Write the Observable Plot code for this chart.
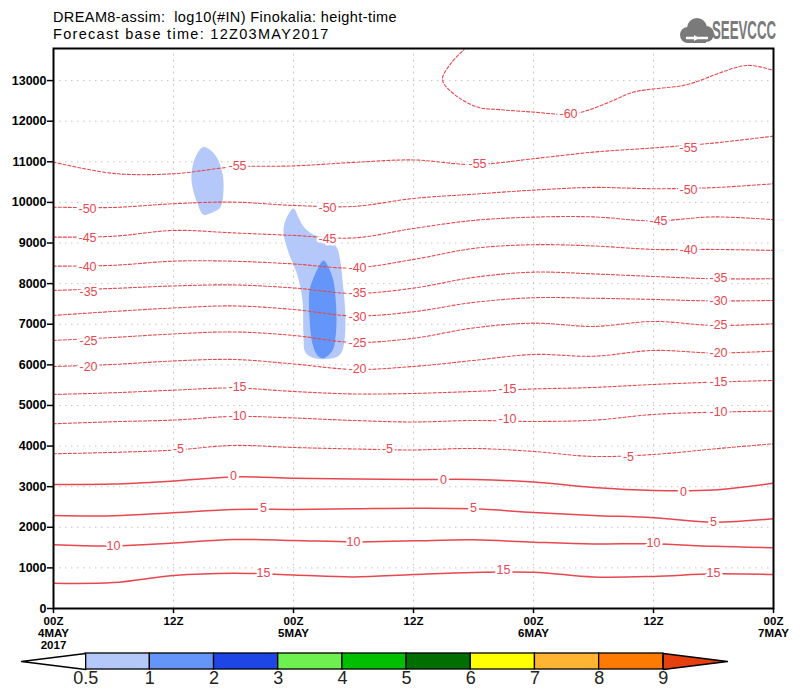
<!DOCTYPE html>
<html>
<head>
<meta charset="utf-8">
<script src="https://cdn.jsdelivr.net/npm/d3@7"></script>
<script src="https://cdn.jsdelivr.net/npm/@observablehq/plot@0.6"></script>
<style>
  html, body { margin: 0; padding: 0; background: #fff; }
  #wrap { position: relative; width: 800px; height: 698px; overflow: hidden; background: #fff; font-family: "Liberation Sans", Arial, sans-serif; }
  .title { position: absolute; left: 53px; font-size: 14.5px; line-height: 17px; white-space: pre; color: #000; }
  #cloud { position: absolute; left: 679px; top: 17px; }
  #logotxt { position: absolute; left: 712px; top: 15px; color: #7a7a7a; font-family: "Liberation Sans", Arial, sans-serif; font-weight: bold; font-size: 25px; line-height: 30px; transform: scaleX(0.53); transform-origin: left top; white-space: nowrap; }
  #main { position: absolute; left: 0; top: 0; }
  #cbar { position: absolute; left: 0; top: 645px; }
</style>
</head>
<body>
<div id="wrap">
  <div class="title" style="top:9px; letter-spacing:0.4px">DREAM8-assim:  log10(#IN) Finokalia: height-time</div>
  <div class="title" style="top:26px; letter-spacing:1.3px">Forecast base time: 12Z03MAY2017</div>
  <svg id="cloud" width="36" height="28" viewBox="0 0 36 28">
    <g fill="#7a7a7a">
      <circle cx="9" cy="18" r="8"/>
      <circle cx="18" cy="11" r="10"/>
      <circle cx="27" cy="17" r="8"/>
      <rect x="9" y="15" width="18" height="11"/>
    </g>
    <path d="M7 21 H29" stroke="#fff" stroke-width="2.5"/>
    <path d="M15 18 l5 3 l-5 3 z" fill="#fff"/>
  </svg>
  <div id="logotxt">SEEVCCC</div>
  <div id="main"></div>
  <div id="cbar"></div>
</div>
<script>
// ---------- data ----------
const hours = [0, 6, 12, 18, 24, 30, 36, 42, 48, 54, 60, 66, 72];

// temperature contour heights (m) at the hours above
const c15  = [623, 640, 813, 869, 825, 776, 837, 887, 894, 776, 790, 855, 837];
const c10  = [1569, 1540, 1613, 1699, 1675, 1640, 1667, 1690, 1633, 1590, 1594, 1530, 1495];
const c5   = [2291, 2285, 2360, 2440, 2440, 2455, 2470, 2456, 2364, 2291, 2234, 2126, 2209];
const c0   = [3054, 3065, 3140, 3240, 3209, 3190, 3177, 3177, 3116, 2980, 2906, 2918, 3086];
const cm5  = [3810, 3845, 3900, 4015, 3965, 3929, 3904, 3941, 3867, 3744, 3793, 3929, 4057];
const cm10 = [4549, 4600, 4640, 4729, 4692, 4630, 4593, 4630, 4606, 4638, 4778, 4835, 4860];
const cm15 = [5271, 5313, 5377, 5431, 5345, 5283, 5296, 5345, 5406, 5443, 5517, 5574, 5616];
const cm20 = [5960, 6010, 6096, 6133, 6022, 5887, 5960, 6108, 6256, 6212, 6355, 6293, 6337];
const cm25 = [6601, 6675, 6761, 6810, 6724, 6552, 6655, 6909, 7027, 6946, 7069, 6970, 7012];
const cm30 = [7217, 7315, 7401, 7451, 7364, 7204, 7308, 7537, 7653, 7640, 7611, 7574, 7586];
const cm35 = [7832, 7882, 7943, 7968, 7894, 7758, 7889, 8153, 8283, 8239, 8177, 8120, 8120];
const cm40 = [8431, 8451, 8554, 8552, 8485, 8387, 8596, 8867, 8958, 8928, 8842, 8842, 8818];
const cm45 = [9145, 9167, 9310, 9249, 9187, 9125, 9359, 9556, 9638, 9643, 9544, 9643, 9574];
const cm50 = [9884, 9876, 9968, 10007, 9926, 9901, 10098, 10202, 10303, 10369, 10337, 10364, 10460];
const cm55 = [10992, 10714, 10706, 10874, 10899, 10985, 11046, 10932, 11076, 11239, 11342, 11461, 11633];

// the -60 contour folds back on itself
const m60Hours   = [41.2, 39.7, 38.9, 40.0, 42.4, 44.7, 48.0, 51.5, 53.4, 56.0, 58.0, 63.0, 64.7, 66.4, 69.4, 72.0];
const m60Heights = [13800, 13411, 13022, 12677, 12347, 12283, 12224, 12167, 12266, 12512, 12717, 12882, 13005, 13170, 13374, 13251];

// contour labels
const labelValue  = [-60, -55, -55, -55, -50, -50, -50, -45, -45, -45, -40, -40, -40, -35, -35, -35, -30, -30, -25, -25, -25, -20, -20, -20, -15, -15, -15, -10, -10, -10, -5, -5, -5, 0, 0, 0, 5, 5, 5, 10, 10, 10, 15, 15, 15];
const labelHour   = [51.5, 18.4, 42.4, 63.5, 3.4, 27.4, 63.5, 3.4, 27.4, 60.5, 3.4, 30.4, 63.5, 3.5, 30.4, 66.5, 30.4, 66.5, 3.5, 30.4, 66.5, 3.5, 30.4, 66.5, 18.4, 45.4, 66.5, 18.4, 45.4, 66.5, 12.5, 33.4, 57.5, 18, 39, 63, 21, 42, 66, 6, 30, 60, 21, 45, 66];
const labelHeight = [12167, 10886, 10935, 11330, 9827, 9852, 10295, 9113, 9089, 9532, 8399, 8387, 8818, 7783, 7758, 8128, 7167, 7561, 6576, 6527, 6970, 5936, 5887, 6281, 5443, 5394, 5566, 4729, 4655, 4827, 3916, 3916, 3719, 3251, 3153, 2857, 2463, 2463, 2118, 1527, 1626, 1601, 862, 936, 862];

// log10(#IN) shaded areas (outline points: hour, height)
const blobAHours   = [15.0, 16.2, 16.9, 17.0, 16.7, 16.0, 15.0, 14.4, 13.9, 13.8, 14.2];
const blobAHeights = [11362, 11157, 10707, 10296, 9884, 9761, 9697, 9968, 10377, 10707, 11116];
const blobBHours   = [24.0, 24.5, 25.0, 25.8, 26.9, 28.2, 28.7, 28.9, 29.1, 29.2, 29.1, 28.8, 28.2, 26.2, 25.2, 25.0, 24.9, 24.4, 23.5, 23.0, 23.2];
const blobBHeights = [9852, 9631, 9409, 9236, 9113, 8941, 8522, 8079, 7586, 7093, 6601, 6305, 6182, 6158, 6305, 6724, 7586, 8202, 8769, 9261, 9557];
const blobCHours   = [27.0, 27.9, 28.2, 28.3, 28.2, 27.9, 27.0, 26.4, 25.9, 25.6, 25.6, 25.9, 26.5];
const blobCHeights = [8571, 8160, 7667, 7175, 6682, 6355, 6165, 6231, 6520, 7175, 7832, 8079, 8406];

// axes
const xTicks = [0, 12, 24, 36, 48, 60, 72];
const xTickLabels = ["00Z\n4MAY\n2017", "12Z", "00Z\n5MAY", "12Z", "00Z\n6MAY", "12Z", "00Z\n7MAY"];
const yTicks = [0, 1000, 2000, 3000, 4000, 5000, 6000, 7000, 8000, 9000, 10000, 11000, 12000, 13000];

// colour bar
const cbLevels = [0.5, 1, 2, 3, 4, 5, 6, 7, 8, 9];
const cbColors = ["#b4c8fa", "#6496fa", "#1e46e6", "#6ef050", "#00bf00", "#006e00", "#ffff00", "#ffb432", "#ff7a00"];
const cbUnder = "#ffffff";
const cbOver = "#e6400f";

// ---------- build ----------
const red = "#e8474f";
const contourSets = [
  [15, c15], [10, c10], [5, c5], [0, c0], [-5, cm5], [-10, cm10], [-15, cm15], [-20, cm20],
  [-25, cm25], [-30, cm30], [-35, cm35], [-40, cm40], [-45, cm45], [-50, cm50], [-55, cm55]
];
const rows = [];
for (const [lev, hs] of contourSets) hs.forEach((h, i) => rows.push({level: lev, t: hours[i], h}));
m60Hours.forEach((t, i) => rows.push({level: -60, t, h: m60Heights[i]}));
const posRows = rows.filter(d => d.level >= 0);
const negRows = rows.filter(d => d.level < 0);
const labels = labelValue.map((v, i) => ({v, t: labelHour[i], h: labelHeight[i]}));
const pts = (ts, hs) => ts.map((t, i) => ({t, h: hs[i]}));

const main = Plot.plot({
  width: 800, height: 660,
  marginLeft: 53, marginRight: 27, marginTop: 48, marginBottom: 52,
  style: {background: "transparent", fontFamily: "'Liberation Sans', Arial, sans-serif", fontSize: "12px", color: "#000", overflow: "visible"},
  x: {domain: [0, 72]},
  y: {domain: [0, 13790]},
  marks: [
    Plot.gridX(xTicks, {stroke: "#c4c4c4", strokeOpacity: 1, strokeDasharray: "1.5,4.5"}),
    Plot.gridY(yTicks, {stroke: "#c4c4c4", strokeOpacity: 1, strokeDasharray: "1.5,4.5"}),
    Plot.line(pts(blobAHours, blobAHeights), {x: "t", y: "h", fill: cbColors[0], stroke: "none", curve: "catmull-rom-closed"}),
    Plot.line(pts(blobBHours, blobBHeights), {x: "t", y: "h", fill: cbColors[0], stroke: "none", curve: "catmull-rom-closed"}),
    Plot.line(pts(blobCHours, blobCHeights), {x: "t", y: "h", fill: cbColors[1], stroke: "none", curve: "catmull-rom-closed"}),
    Plot.line(negRows, {x: "t", y: "h", z: "level", stroke: red, strokeWidth: 1.1, strokeDasharray: "3,2", curve: "catmull-rom", clip: true}),
    Plot.line(posRows, {x: "t", y: "h", z: "level", stroke: red, strokeWidth: 1.5, curve: "catmull-rom", clip: true}),
    Plot.text(labels, {x: "t", y: "h", text: d => String(d.v), fill: red, stroke: "white", strokeWidth: 5, fontSize: 12.5}),
    Plot.frame({stroke: "#000", strokeWidth: 2}),
    Plot.axisX(xTicks, {tickFormat: () => "", tickSize: 5, label: null, stroke: "#000", strokeWidth: 1.5}),
    Plot.axisY(yTicks, {tickFormat: () => "", tickSize: 6, label: null, stroke: "#000", strokeWidth: 1.5}),
    Plot.text(xTicks, {x: d => d, frameAnchor: "bottom", dy: 8, lineAnchor: "top", lineHeight: 1.05,
      text: d => xTickLabels[xTicks.indexOf(d)], fontWeight: "bold", fontSize: 11.5, fill: "#000"}),
    Plot.text(yTicks, {y: d => d, frameAnchor: "left", dx: -7, textAnchor: "end",
      text: d => String(d), fontWeight: "bold", fontSize: 12.5, fill: "#000"})
  ]
});
document.getElementById("main").appendChild(main);

const cbRects = cbColors.map((c, i) => ({i, c}));
const cbar = Plot.plot({
  width: 800, height: 53,
  marginLeft: 21, marginRight: 73, marginTop: 8, marginBottom: 29,
  style: {background: "transparent", fontFamily: "'Liberation Sans', Arial, sans-serif", color: "#000", overflow: "visible"},
  x: {domain: [0, 11], axis: null},
  y: {domain: [0, 1], axis: null},
  color: {type: "identity"},
  marks: [
    Plot.rect(cbRects, {x1: d => d.i + 1, x2: d => d.i + 2, y1: 0, y2: 1, fill: "c", stroke: "#000", strokeWidth: 1.3}),
    Plot.line([{u: 1, v: 0}, {u: 1, v: 1}, {u: 0, v: 0.5}], {x: "u", y: "v", fill: cbUnder, stroke: "#000", strokeWidth: 1.3, curve: "linear-closed"}),
    Plot.line([{u: 10, v: 0}, {u: 10, v: 1}, {u: 11, v: 0.5}], {x: "u", y: "v", fill: cbOver, stroke: "#000", strokeWidth: 1.3, curve: "linear-closed"}),
    Plot.text(cbLevels, {x: (d, i) => i + 1, frameAnchor: "bottom", dy: 14.5, text: d => String(d), fontSize: 18, fill: "#222"})
  ]
});
document.getElementById("cbar").appendChild(cbar);
</script>
</body>
</html>
